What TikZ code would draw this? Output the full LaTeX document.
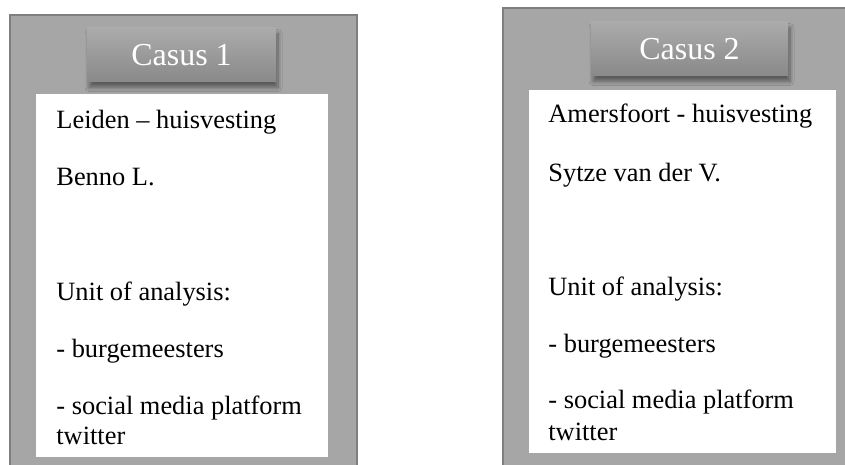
\documentclass[tikz,border=0pt]{standalone}
\usepackage{fontspec}
\setmainfont{Liberation Serif}
\usetikzlibrary{positioning}
\usetikzlibrary{shadows.blur}

\definecolor{panelgray}{HTML}{A6A6A6}
\definecolor{bordergray}{HTML}{7F7F7F}
\definecolor{titletop}{HTML}{ABABAB}
\definecolor{titlebottom}{HTML}{898989}

\tikzset{
  panel/.style={fill=panelgray, draw=bordergray, line width=1pt},
  sheet/.style={fill=white, draw=none},
  casetitle/.style={top color=titletop, bottom color=titlebottom, draw=none,
    text=white, inner sep=0pt, font=\fontsize{16}{18}\selectfont,
    blur shadow={shadow xshift=1pt, shadow yshift=-2.8pt, shadow blur radius=2pt,
      shadow opacity=45, shadow blur steps=8}},
  caseline/.style={anchor=base west, inner sep=0pt, font=\fontsize{13.2}{15}\selectfont}
}

\begin{document}
\begin{tikzpicture}[x=0.5pt, y=-0.5pt]
  \useasboundingbox (0,0) rectangle (845,465);
  \clip (0,0) rectangle (845,465);

  % panels
  \draw[panel] (10,15) rectangle (357,480);
  \draw[panel] (503,8) rectangle (870,480);

  % white sheets
  \fill[sheet] (36,94) rectangle (328,457);
  \fill[sheet] (529,90) rectangle (836,453);

  % titles
  \node[casetitle, minimum width=94.5pt, minimum height=27pt] (casus1) at (181.5,55) {Casus 1};
  \node[casetitle, minimum width=98.5pt, minimum height=27pt] (casus2) at (689.5,49) {Casus 2};

  % case 1 text
  \foreach \y/\txt [count=\i] in {128/Leiden – huisvesting, 185/Benno L., 300/Unit of analysis:,
      357/- burgemeesters, 414/- social media platform, 444/twitter}
    {\node[caseline] (l\i) at (56,\y) {\txt};}

  % case 2 text
  \foreach \y/\txt [count=\i] in {123/Amersfoort - huisvesting, 181/Sytze van der V., 295/Unit of analysis:,
      352/- burgemeesters, 408/- social media platform, 440/twitter}
    {\node[caseline] (r\i) at (548,\y) {\txt};}
\end{tikzpicture}
\end{document}
